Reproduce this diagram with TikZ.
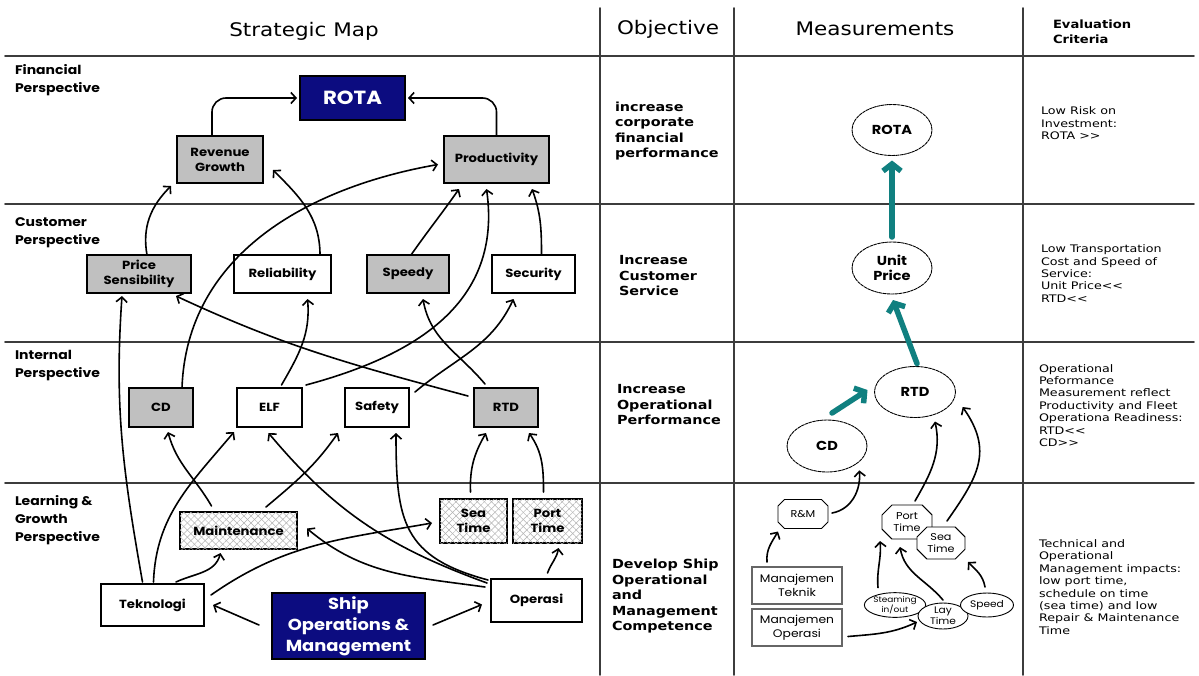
\documentclass[tikz,border=0pt]{standalone}
\usepackage{fontspec}
\newfontfamily\mapfont[FakeStretch=1.12]{Poppins}
\newfontfamily\headfont[FakeStretch=1.15]{DejaVu Sans}
\newfontfamily\evalfont[FakeStretch=1.22]{DejaVu Sans}
\usetikzlibrary{arrows.meta, shapes.geometric, shapes.misc, patterns.meta}

\definecolor{boxgray}{RGB}{192,192,192}
\definecolor{boxnavy}{RGB}{12,12,128}
\definecolor{tealc}{RGB}{16,128,128}
\definecolor{gridgray}{RGB}{60,60,60}
\newcommand{\setfs}[2]{\fontsize{#1}{#2}\selectfont}

\begin{document}
\begin{tikzpicture}[x=1pt, y=-1pt, line cap=round,
  every node/.style={inner sep=0pt, outer sep=0pt, align=center},
  box/.style={draw, line width=1.2pt, font=\mapfont\bfseries\setfs{11.8}{15}},
  greybox/.style={box, fill=boxgray},
  navybox/.style={box, fill=boxnavy, text=white},
  hatchbox/.style={box, fill=white,
    postaction={pattern={Lines[angle=45, distance=5pt, line width=0.5pt]}, pattern color=gray!60},
    postaction={pattern={Lines[angle=-45, distance=5pt, line width=0.5pt]}, pattern color=gray!60}},
  persp/.style={anchor=west, align=left, font=\mapfont\bfseries\setfs{12.5}{18}},
  objtext/.style={anchor=west, align=left, font=\headfont\bfseries\setfs{12.5}{15.5}},
  evaltext/.style={anchor=west, align=left, font=\evalfont\setfs{10.4}{12.4}},
  header/.style={font=\headfont\setfs{18.7}{22}},
  rowline/.style={draw=gridgray, line width=1.8pt},
  arr/.style={-{Straight Barb[length=5pt, width=11pt]}, line width=1.6pt},
  bigarr/.style={-{Straight Barb[length=7pt, width=18pt]}, line width=5.5pt, draw=tealc},
  goal/.style={ellipse, draw, line width=0.9pt, dash pattern=on 3pt off 1pt, font=\mapfont\bfseries\setfs{13}{15}},
  octo/.style={chamfered rectangle, chamfered rectangle xsep=7pt, draw, line width=0.9pt, fill=white, font=\mapfont\setfs{10}{12}},
  smallbox/.style={draw=gray!80!black, line width=1.3pt, font=\mapfont\setfs{11}{13.5}},
  oval/.style={ellipse, draw, line width=0.9pt, fill=white, font=\mapfont\setfs{9.5}{11}},
]
\fill[white] (0,0) rectangle (1199,675);
\useasboundingbox (0,0) rectangle (1199,675);

% table
\draw[rowline] (5,56) -- (1194,56);
\draw[rowline] (5,204) -- (1194,204);
\draw[rowline] (5,342) -- (1194,342);
\draw[rowline] (5,483) -- (1194,483);
\draw[rowline] (600,8) -- (600,675);
\draw[rowline] (734,8) -- (734,675);
\draw[rowline] (1023,8) -- (1023,675);

\node[header] (hmap) at (304,31) {Strategic Map};
\node[header] (hobj) at (668,29) {Objective};
\node[header] (hmeas) at (875,29) {Measurements};
\node[anchor=west, align=left, font=\headfont\bfseries\setfs{11.4}{15}] (heval) at (1053,31.5) {Evaluation\\Criteria};

\node[persp] (pfin) at (15,80) {Financial\\Perspective};
\node[persp] (pcus) at (15,232.5) {Customer\\Perspective};
\node[persp] (pint) at (15,366) {Internal\\Perspective};
\node[persp] (plrn) at (15,520) {Learning \&\\Growth\\Perspective};

% strategic map
\node[navybox, minimum width=105, minimum height=44, font=\mapfont\bfseries\setfs{19}{22}] (rota) at (352.5,98) {ROTA};
\node[greybox, minimum width=86, minimum height=47] (rev) at (220,159.5) {Revenue\\Growth};
\node[greybox, minimum width=105, minimum height=47] (prod) at (496.5,159.5) {Productivity};

\node[greybox, minimum width=104, minimum height=38] (price) at (139,274) {Price\\Sensibility};
\node[box, minimum width=97, minimum height=38] (rel) at (282.5,274) {Reliability};
\node[greybox, minimum width=82, minimum height=38] (speedy) at (408,274) {Speedy};
\node[box, minimum width=83, minimum height=38] (sec) at (533.5,274) {Security};

\node[greybox, minimum width=64, minimum height=39] (cd) at (161,407.5) {CD};
\node[box, minimum width=65, minimum height=39] (elf) at (269.5,407.5) {ELF};
\node[box, minimum width=64, minimum height=39] (safe) at (377,407.5) {Safety};
\node[greybox, minimum width=64, minimum height=39] (rtd) at (506,407.5) {RTD};

\node[hatchbox, minimum width=117, minimum height=37] (maint) at (238.5,530.5) {Maintenance};
\node[hatchbox, minimum width=67, minimum height=44] (seat) at (473.5,521) {Sea\\Time};
\node[hatchbox, minimum width=69, minimum height=44] (portt) at (547.5,521) {Port\\Time};
\node[box, minimum width=103, minimum height=42] (tek) at (152.5,605) {Teknologi};
\node[navybox, minimum width=153, minimum height=66, font=\mapfont\bfseries\setfs{16}{21}] (ship) at (348.5,626) {Ship\\Operations \&\\Management};
\node[box, minimum width=91, minimum height=43] (ops) at (536.5,600.5) {Operasi};

\draw[arr, rounded corners=14] ([shift={(-8,0)}]rev.north) |- ([shift={(-3,0)}]rota.west);
\draw[arr, rounded corners=14] (prod.north) |- ([shift={(3,0)}]rota.east);
\draw[arr] ([shift={(8,0)}]price.north) to[out=100, in=-135] ([shift={(-6,3)}]rev.south west);
\draw[arr] ([shift={(-11,0)}]rel.north east) to[out=90, in=-45] ([shift={(10,-13)}]rev.south east);
\draw[arr] ([shift={(-11,0)}]cd.north east) to[out=88, in=190] ([shift={(-6,5)}]prod.west);
\draw[arr] ([shift={(3,0)}]speedy.north) to[out=55, in=-125] ([shift={(15,6)}]prod.south west);
\draw[arr] ([shift={(4,-3)}]elf.north east) to[out=15, in=-82, looseness=1.1] ([shift={(-10,6)}]prod.south);
\draw[arr] ([shift={(8,0)}]sec.north) to[out=90, in=-70] ([shift={(-17,6)}]prod.south east);

\draw[arr] ([shift={(-10,-2)}]tek.north) to[out=100, in=-94] ([shift={(-17,3)}]price.south);
\draw[arr] ([shift={(-6,8)}]rtd.north west) to[out=165, in=-25] ([shift={(-15,3)}]price.south east);
\draw[arr] ([shift={(12,-3)}]elf.north) to[out=60, in=-85] ([shift={(25,6)}]rel.south);
\draw[arr] ([shift={(6,4)}]safe.north east) to[out=40, in=-115] ([shift={(-20,6)}]sec.south);
\draw[arr] ([shift={(11,-4)}]rtd.north west) to[out=130, in=-80] ([shift={(15,6)}]speedy.south);

\draw[arr] ([shift={(-27,-6)}]maint.north) to[out=120, in=-75] ([shift={(7,5)}]cd.south);
\draw[arr] ([shift={(1,-2)}]tek.north) to[out=88, in=-130] ([shift={(-3,5)}]elf.south west);
\draw[arr] ([shift={(-4,4)}]ops.north west) to[out=160, in=-50] ([shift={(-1,6)}]elf.south);
\draw[arr] ([shift={(-31,-5)}]maint.north east) to[out=40, in=-125] ([shift={(-7,6)}]safe.south west);
\draw[arr] ([shift={(-3,1)}]ops.north west) to[out=165, in=-90, looseness=1.3] ([shift={(19,6)}]safe.south);
\draw[arr] ([shift={(-3,-7)}]seat.north) to[out=92, in=-120] ([shift={(12,6)}]rtd.south west);
\draw[arr] ([shift={(-4,-7)}]portt.north) to[out=90, in=-55] ([shift={(-9,6)}]rtd.south east);

\draw[arr] ([shift={(7,11)}]tek.north east) to[out=35, in=190] ([shift={(-8,2)}]seat.west);
\draw[arr] ([shift={(-28,-2)}]tek.north east) to[out=25, in=-105] ([shift={(-18,4)}]maint.south);
\draw[arr] ([shift={(-6,8)}]ops.north west) to[out=172, in=-40] ([shift={(10,-2)}]maint.east);
\draw[arr] ([shift={(-13,-1)}]ship.west) -- ([shift={(9,0)}]tek.east);
\draw[arr] ([shift={(8,-1)}]ship.east) -- ([shift={(-9,4)}]ops.west);
\draw[arr] ([shift={(11,-6)}]ops.north) to[out=70, in=-100] ([shift={(11,5)}]portt.south);

% objectives
\node[objtext] (obj1) at (615,131) {increase\\corporate\\financial\\performance};
\node[objtext] (obj2) at (619,276) {Increase\\Customer\\Service};
\node[objtext] (obj3) at (617,405) {Increase\\Operational\\Performance};
\node[objtext] (obj4) at (612,596.5) {Develop Ship\\Operational\\and\\Management\\Competence};

% measurements
\node[goal, minimum width=80, minimum height=51] (mrota) at (892,130) {ROTA};
\node[goal, minimum width=80, minimum height=52] (munit) at (892,268) {Unit\\Price};
\node[goal, minimum width=81, minimum height=51] (mrtd) at (915,392) {RTD};
\node[goal, minimum width=80, minimum height=52] (mcd) at (827,446) {CD};

\draw[bigarr] ([shift={(0,-5)}]munit.north) -- ([shift={(0,5)}]mrota.south);
\draw[bigarr] ([shift={(2,-3)}]mrtd.north) -- ([shift={(1,6)}]munit.south);
\draw[bigarr] ([shift={(5,-7)}]mcd.north) -- ([shift={(-7,-2)}]mrtd.west);

\node[octo, minimum width=50, minimum height=29] (rm) at (803,514) {R\&M};
\node[octo, minimum width=50, minimum height=34] (mport) at (907,522) {Port\\Time};
\node[octo, minimum width=48, minimum height=32] (msea) at (941,543) {Sea\\Time};
\node[smallbox, minimum width=90, minimum height=37] (mtek) at (797,585.5) {Manajemen\\Teknik};
\node[smallbox, minimum width=90, minimum height=37] (mop) at (797,627.5) {Manajemen\\Operasi};
\node[oval, minimum width=54, minimum height=24, font=\mapfont\setfs{8}{10}] (steam) at (895,605) {Steaming\\in/out};
\node[oval, minimum width=50, minimum height=26] (lay) at (943,616) {Lay\\Time};
\node[oval, minimum width=53, minimum height=24] (speed) at (987,605) {Speed};

\draw[arr] ([shift={(15,-5)}]mtek.north west) to[out=95, in=-120] ([shift={(-25,3)}]rm.south);
\draw[arr] ([shift={(4,-1)}]rm.east) to[out=10, in=-85] ([shift={(4,6)}]mcd.south east);
\draw[arr] ([shift={(8,-4)}]mport.north) to[out=60, in=-78] ([shift={(20,4)}]mrtd.south);
\draw[arr] ([shift={(6,-6)}]msea.north) to[out=55, in=-55, looseness=1.2] ([shift={(19,-3)}]mrtd.south east);
\draw[arr] ([shift={(-17,-5)}]steam.north) to[out=95, in=-85] ([shift={(-27,2)}]mport.south);
\draw[arr] ([shift={(0,-3)}]lay.north) to[out=130, in=-80] ([shift={(-7,8)}]mport.south);
\draw[arr] ([shift={(-2,-6)}]speed.north) to[out=100, in=-45] ([shift={(27,3)}]msea.south);
\draw[arr] ([shift={(6,9)}]mop.east) to[out=5, in=-155] ([shift={(-1,6)}]lay.west);

% evaluation criteria
\node[evaltext] (ev1) at (1041,123.5) {Low Risk on\\Investment:\\ROTA >\kern0pt>};
\node[evaltext] (ev2) at (1041,273.5) {Low Transportation\\Cost and Speed of\\Service:\\Unit Price<\kern0pt<\\RTD<\kern0pt<};
\node[evaltext] (ev3) at (1039,405.5) {Operational\\Peformance\\Measurement reflect\\Productivity and Fleet\\Operationa Readiness:\\RTD<\kern0pt<\\CD>\kern0pt>};
\node[evaltext] (ev4) at (1039,587) {Technical and\\Operational\\Management impacts:\\low port time,\\schedule on time\\(sea time) and low\\Repair \& Maintenance\\Time};
\end{tikzpicture}
\end{document}
